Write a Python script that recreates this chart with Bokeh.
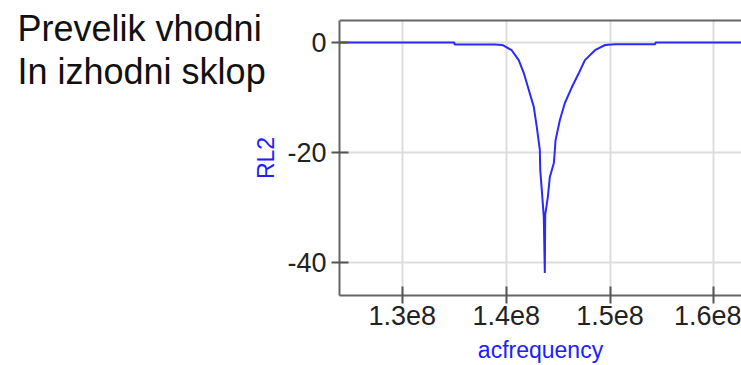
import math
from bokeh.plotting import figure
from bokeh.models import Range1d, FixedTicker, Span, BoxAnnotation
from bokeh.layouts import row
from bokeh.core.properties import value
from bokeh.embed import file_html
from bokeh.resources import INLINE

# ---- data ----
acfrequency = [1.24e8, 1.35e8, 1.3503e8, 1.3889e8, 1.3957e8, 1.3976e8, 1.4053e8,
               1.4121e8, 1.4169e8, 1.4217e8, 1.4266e8, 1.4295e8, 1.4324e8, 1.4328e8,
               1.4343e8, 1.4362e8, 1.4372e8, 1.4376e8, 1.4401e8, 1.4420e8, 1.4459e8,
               1.4469e8, 1.4475e8, 1.4517e8, 1.4565e8, 1.4633e8, 1.4701e8, 1.4758e8,
               1.4855e8, 1.4952e8, 1.5048e8, 1.5435e8, 1.5438e8, 1.63e8]
rl2 = [0, 0, -0.35, -0.35, -0.45, -0.55, -1.4,
       -3.2, -5.5, -8.6, -11.7, -15.4, -19.5, -23.2,
       -26.8, -31.7, -41.9, -31.3, -28.1, -24.5, -21.9,
       -19.5, -17.8, -14.1, -11.0, -8.1, -5.5, -3.2,
       -1.4, -0.45, -0.3, -0.3, 0, 0]

x_ticks = [1.3e8, 1.4e8, 1.5e8, 1.6e8]
x_tick_labels = ["1.3e8", "1.4e8", "1.5e8", "1.6e8"]
y_ticks = [0, -20, -40]
y_tick_labels = ["0", "-20", "-40"]
title_lines = ["Prevelik vhodni", "In izhodni sklop"]
x_title = "acfrequency"
y_title = "RL2"

FONT = "Liberation Sans"
AXIS_BLUE = "#2020ff"
BORDER = "#666666"
W, H = 741, 365
CAP_W = 279
Y_LO, Y_HI = -46.0, 4.0          # visible box of the plot
Y_TOP = 7.64                     # frame extends above the box (kept blank)

# ---- caption panel (left): caption text and the vertical y-axis title ----
cap = figure(width=CAP_W, height=H, output_backend="svg",
             toolbar_location=None, title=None,
             x_axis_type=None, y_axis_type=None,
             x_range=Range1d(0, CAP_W), y_range=Range1d(295, 0),
             min_border=0)
cap.grid.visible = False
cap.outline_line_color = None
cap.background_fill_color = "white"
cap.border_fill_color = "white"
cap.text(x=[17, 17], y=[28, 71], text=title_lines,
         text_font=value(FONT), text_font_size="36px", text_color="#111111",
         text_baseline="middle", text_align="left")
cap.text(x=[265], y=[157.5], text=[y_title], angle=math.pi / 2,
         text_font=value(FONT), text_font_size="23px", text_color=AXIS_BLUE,
         text_baseline="middle", text_align="center")

# ---- main plot ----
p = figure(width=W - CAP_W, height=H, output_backend="svg", toolbar_location=None,
           x_range=Range1d(1.2396e8, 1.6265e8), y_range=Range1d(Y_LO, Y_TOP),
           min_border_left=339 - CAP_W, min_border_right=0, min_border_top=0,
           min_border_bottom=70)
p.background_fill_color = "white"
p.border_fill_color = "white"
p.outline_line_color = None

p.line(acfrequency, rl2, line_color="#2a2aff", line_width=2)

# blank out the strip above the plot box and draw its top border
p.add_layout(BoxAnnotation(bottom=Y_HI, fill_color="white", fill_alpha=1.0,
                           line_color=None))
p.add_layout(Span(location=Y_HI, dimension="width", line_color=BORDER,
                  line_width=2))

for ax in (p.xaxis[0], p.yaxis[0]):
    ax.axis_line_color = BORDER
    ax.axis_line_width = 2
    ax.major_tick_line_color = "#555555"
    ax.major_tick_line_width = 2
    ax.major_tick_in = 9
    ax.major_tick_out = 8
    ax.minor_tick_line_color = None
    ax.major_label_text_font = FONT
    ax.major_label_text_font_size = "27px"
    ax.major_label_text_color = "#222222"
    ax.axis_label_text_font = FONT
    ax.axis_label_text_font_size = "23px"
    ax.axis_label_text_font_style = "normal"
    ax.axis_label_text_color = AXIS_BLUE

p.xaxis[0].ticker = FixedTicker(ticks=x_ticks)
p.xaxis[0].major_label_overrides = {t: l for t, l in zip(x_ticks, x_tick_labels)}
p.xaxis[0].major_label_standoff = 2
p.xaxis[0].axis_label = x_title
p.xaxis[0].axis_label_standoff = 9

p.yaxis[0].ticker = FixedTicker(ticks=y_ticks)
p.yaxis[0].major_label_overrides = {t: l for t, l in zip(y_ticks, y_tick_labels)}
p.yaxis[0].major_label_standoff = 5
p.yaxis[0].bounds = (Y_LO, Y_HI)

p.xgrid.grid_line_color = "#dddddd"
p.xgrid.grid_line_width = 2
p.ygrid.grid_line_color = "#dddddd"
p.ygrid.grid_line_width = 2
p.xgrid.ticker = FixedTicker(ticks=x_ticks)
p.ygrid.ticker = FixedTicker(ticks=y_ticks)

layout = row(cap, p, spacing=0)
open("out.html", "w").write(file_html(layout, INLINE))
